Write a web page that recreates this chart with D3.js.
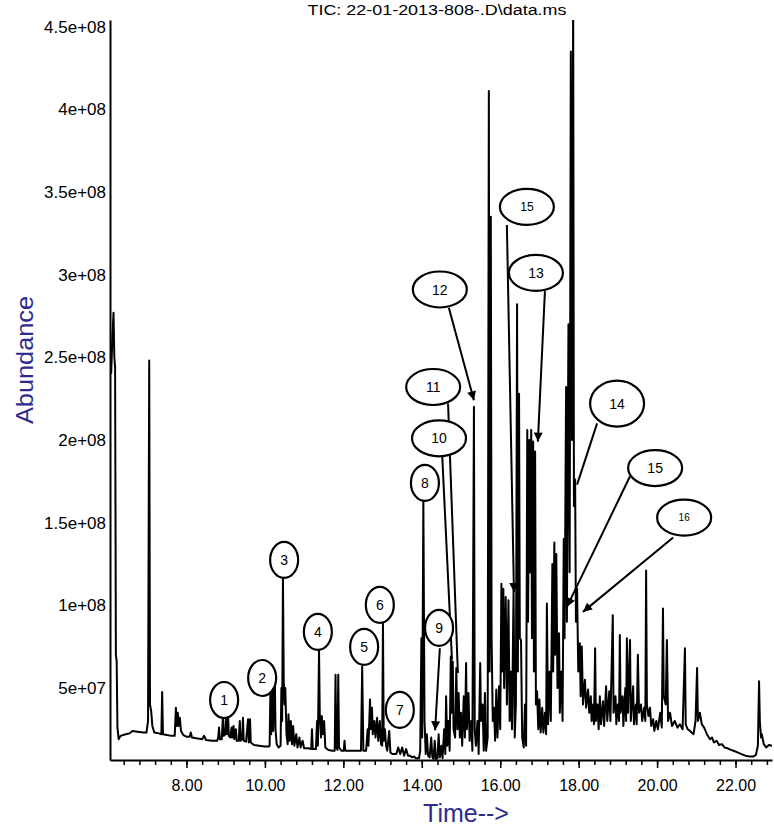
<!DOCTYPE html>
<html>
<head>
<meta charset="utf-8">
<script src="https://cdn.jsdelivr.net/npm/d3@7"></script>
<style>
  body { margin: 0; background: #fff; }
  svg { display: block; font-family: "Liberation Sans", Arial, sans-serif; }
</style>
</head>
<body>
<svg id="tic" width="774" height="828"></svg>
<script>
// TIC trace: [retention time (min), abundance (millions)]
const ticTrace = [
  [6.08,240],[6.11,262],[6.14,277],[6.16,250],[6.18,244],[6.20,70],[6.22,66],[6.24,26],[6.27,19],[6.32,21],
  [6.45,22],[6.55,22.5],[6.62,24],[6.75,23.5],[6.90,23],[6.98,23],[7.02,30],[7.05,248],[7.07,40],[7.10,36],
  [7.13,27],[7.18,23],[7.30,22.5],[7.36,22],[7.38,47.5],[7.40,22],[7.50,21.5],[7.62,21],[7.70,21],[7.73,38],
  [7.75,27],[7.78,35],[7.80,27],[7.83,32],[7.86,24],[7.92,21.5],[8.00,20.5],[8.08,20.5],[8.11,23],[8.14,20],
  [8.25,19.5],[8.40,19],[8.45,21],[8.50,18.5],[8.65,18],[8.78,18],[8.81,20],[8.83,26],[8.85,19],[8.90,19],
  [8.93,33],[8.95,21],[8.99,22],[9.01,33],[9.03,22],[9.06,34],[9.08,21],[9.12,20],[9.15,26],[9.17,20],
  [9.20,27],[9.22,19],[9.26,25],[9.28,18],[9.33,18],[9.36,30],[9.38,18],[9.42,19],[9.44,32],[9.46,18],
  [9.52,17.5],[9.57,31],[9.59,17],[9.62,31],[9.64,17],[9.72,15.5],[9.85,15],[10.00,14.5],[10.10,14.5],
  [10.12,15],[10.14,48],[10.16,22],[10.19,51],[10.21,24],[10.25,59],[10.27,25],[10.30,16],[10.35,14],[10.40,15],
  [10.42,50],[10.44,30],[10.46,118],[10.48,54],[10.50,40],[10.52,50],[10.55,22],[10.58,16],[10.60,34],[10.63,18],
  [10.66,30],[10.69,16],[10.72,27],[10.75,15],[10.80,22],[10.83,14],[10.88,20],[10.91,14],[10.96,18],[11.00,13.5],
  [11.10,13.5],[11.18,13],[11.20,25],[11.22,13],[11.30,13],[11.33,30],[11.35,15],[11.38,73],[11.40,32],[11.43,20],
  [11.45,33],[11.48,22],[11.51,30],[11.54,14],[11.62,12.5],[11.72,12],[11.78,12],[11.80,58],[11.82,14],[11.85,12.5],
  [11.87,58],[11.89,14],[11.95,12],[12.01,12],[12.03,18],[12.05,12],[12.20,12],[12.35,12],[12.45,12],[12.48,63],
  [12.51,12],[12.58,12],[12.62,25],[12.64,15],[12.68,43],[12.70,25],[12.73,38],[12.75,22],[12.79,30],[12.82,20],
  [12.86,32],[12.89,18],[12.93,30],[12.96,16],[12.99,15],[13.01,89],[13.03,18],[13.06,25],[13.09,15],[13.12,12],
  [13.17,24],[13.20,11],[13.25,10],[13.30,10],[13.35,10],[13.40,14],[13.45,10],[13.50,14],[13.55,9],[13.60,13],
  [13.65,9],[13.70,9],[13.75,8],[13.80,8.5],[13.85,7.5],[13.93,7.5],[13.96,12],[13.99,80],[14.01,20],[14.04,164],
  [14.07,30],[14.10,10],[14.13,22],[14.16,9],[14.20,8],[14.24,20],[14.27,8],[14.30,7],[14.33,18],[14.36,7],
  [14.40,7.5],[14.43,22],[14.46,8],[14.50,15],[14.53,7.5],[14.57,25],[14.60,10],[14.62,45],[14.65,15],[14.68,30],
  [14.71,12],[14.74,69],[14.76,35],[14.79,66],[14.81,25],[14.85,20],[14.88,62],[14.91,25],[14.94,47],[14.97,20],
  [15.00,35],[15.03,15],[15.07,45],[15.10,20],[15.13,65],[15.15,25],[15.19,47],[15.22,18],[15.26,30],[15.29,12],
  [15.33,220],[15.35,25],[15.38,15],[15.42,30],[15.45,10],[15.49,65],[15.51,30],[15.55,40],[15.58,12],[15.61,47],
  [15.64,12],[15.68,20],[15.71,411],[15.73,60],[15.76,335],[15.78,80],[15.81,30],[15.84,38],[15.87,18],[15.90,49],
  [15.93,20],[15.97,51],[16.00,25],[16.03,113],[16.05,60],[16.08,110],[16.10,50],[16.14,105],[16.17,40],[16.21,103],
  [16.24,30],[16.27,60],[16.30,25],[16.34,109],[16.37,20],[16.40,40],[16.43,282],[16.45,60],[16.48,228],[16.50,80],
  [16.53,79],[16.56,20],[16.60,14],[16.63,40],[16.66,15],[16.69,206],[16.71,90],[16.74,200],[16.76,120],[16.79,206],
  [16.81,80],[16.84,199],[16.86,60],[16.89,193],[16.91,40],[16.94,48],[16.97,25],[17.00,43],[17.03,23],[17.07,38],
  [17.10,23],[17.14,35],[17.17,22],[17.19,101],[17.22,28],[17.26,60],[17.29,30],[17.33,125],[17.35,60],[17.38,138],
  [17.40,70],[17.43,131],[17.46,50],[17.50,83],[17.52,35],[17.56,60],[17.59,30],[17.62,140],[17.64,80],[17.68,232],
  [17.70,90],[17.74,270],[17.77,120],[17.80,435],[17.83,200],[17.86,470],[17.88,160],[17.91,176],[17.93,90],[17.96,110],
  [17.99,60],[18.03,77],[18.05,45],[18.08,75],[18.11,40],[18.16,55],[18.19,38],[18.24,49],[18.27,35],[18.31,45],
  [18.33,30],[18.37,40],[18.39,28],[18.42,74],[18.44,30],[18.48,40],[18.51,25],[18.54,45],[18.57,28],[18.62,42],
  [18.65,27],[18.70,51],[18.73,30],[18.78,48],[18.81,30],[18.87,94],[18.89,35],[18.94,45],[18.96,28],[19.00,40],
  [19.03,30],[19.05,82],[19.07,35],[19.12,45],[19.14,27],[19.19,50],[19.21,30],[19.23,80],[19.26,35],[19.31,79],
  [19.33,30],[19.39,51],[19.41,28],[19.46,40],[19.48,28],[19.51,70],[19.54,35],[19.59,40],[19.62,30],[19.67,38],
  [19.70,30],[19.72,121],[19.74,40],[19.78,33],[19.82,38],[19.85,27],[19.90,31],[19.93,24],[19.98,30],[20.02,25],
  [20.08,35],[20.12,26],[20.15,98],[20.17,45],[20.22,40],[20.25,79],[20.28,30],[20.33,35],[20.38,27],[20.45,30],
  [20.52,26],[20.58,28],[20.65,25],[20.71,74],[20.73,28],[20.78,25],[20.84,24],[20.88,23],[20.93,22],[20.98,30],
  [21.02,62],[21.04,30],[21.09,35],[21.14,28],[21.20,26],[21.27,22],[21.35,19],[21.40,20],[21.45,17],[21.52,18],
  [21.58,15.5],[21.65,16],[21.72,14],[21.80,13.5],[21.88,12.5],[21.95,12],[22.05,11],[22.15,10],[22.25,9],[22.35,8.5],
  [22.45,8.5],[22.52,9.5],[22.57,15],[22.60,54],[22.62,30],[22.65,20],[22.67,22],[22.72,16],[22.78,14],[22.85,15.5],
  [22.93,15]
];

// axis ticks
const yTickValues = [50, 100, 150, 200, 250, 300, 350, 400, 450];
const yTickLabels = ["5e+07", "1e+08", "1.5e+08", "2e+08", "2.5e+08", "3e+08", "3.5e+08", "4e+08", "4.5e+08"];
const xTickValues = [8, 10, 12, 14, 16, 18, 20, 22];
const xTickLabels = ["8.00", "10.00", "12.00", "14.00", "16.00", "18.00", "20.00", "22.00"];

// peak callouts: label, balloon centre (time, abundance)
const calloutLabels = ["1", "2", "3", "4", "5", "6", "7", "8", "9", "10", "11", "12", "13", "15", "14", "15", "16"];
const calloutTime = [8.96, 9.93, 10.49, 11.35, 12.53, 12.93, 13.44, 14.08, 14.44, 14.44, 14.29, 14.46, 16.91, 16.68, 18.98, 19.95, 20.69];
const calloutAbund = [42.7, 56, 127.4, 83.9, 74.8, 100.2, 36.7, 174, 86.3, 201, 232, 291, 301, 341, 222, 183, 153];

// leader lines: from (time, abundance) to (time, abundance), arrowhead or not
const leaderFrom = [[14.46, 74], [14.52, 191], [14.67, 222], [14.69, 280], [17.14, 290], [16.17, 330], [18.47, 210], [19.31, 178], [20.41, 141]];
const leaderTo = [[14.34, 24.4], [14.77, 67], [14.92, 59], [15.33, 224], [16.96, 199], [16.35, 108], [17.96, 173], [17.70, 99], [18.11, 96]];
const leaderArrow = [true, false, false, true, true, true, false, true, true];

var svg = d3.select("#tic");

var x = d3.scaleLinear().domain([6.05, 22.93]).range([110, 772]);
var y = d3.scaleLinear().domain([6.4, 454]).range([760, 20]);

var axisBlue = "#2e2b8f";

svg.append("defs").append("clipPath")
    .attr("id", "plot-clip")
  .append("rect")
    .attr("x", 110).attr("y", 20)
    .attr("width", 662).attr("height", 740);

svg.select("defs").append("marker")
    .attr("id", "head")
    .attr("viewBox", "0 0 10 10")
    .attr("refX", 10).attr("refY", 5)
    .attr("markerWidth", 10).attr("markerHeight", 9)
    .attr("markerUnits", "userSpaceOnUse")
    .attr("orient", "auto")
  .append("path")
    .attr("d", "M0,0L10,5L0,10Z")
    .attr("fill", "#000");

// title
svg.append("text")
    .attr("x", 437).attr("y", 15)
    .attr("text-anchor", "middle")
    .attr("font-size", 14)
    .attr("textLength", 259)
    .attr("lengthAdjust", "spacingAndGlyphs")
    .text("TIC: 22-01-2013-808-.D\\data.ms");

// trace
var line = d3.line()
    .x(function(d) { return x(d[0]); })
    .y(function(d) { return y(d[1]); });

svg.append("path")
    .datum(ticTrace)
    .attr("clip-path", "url(#plot-clip)")
    .attr("d", line)
    .attr("fill", "none")
    .attr("stroke", "#000")
    .attr("stroke-width", 2)
    .attr("stroke-linejoin", "round");

// x axis: minor ticks every 0.4 min, labelled majors every 2 min
var xMinor = d3.range(6.4, 22.9, 0.4);
svg.append("g")
    .attr("transform", "translate(0,760)")
    .call(d3.axisBottom(x).tickValues(xMinor).tickSize(5).tickSizeOuter(0).tickFormat(""))
    .call(function(g) { g.select(".domain").attr("stroke-width", 2); })
    .call(function(g) { g.selectAll(".tick line").attr("stroke-width", 1.5); });

svg.append("g")
    .attr("transform", "translate(0,760)")
    .call(d3.axisBottom(x).tickValues(xTickValues).tickSize(8).tickSizeOuter(0).tickPadding(12)
        .tickFormat(function(d, i) { return xTickLabels[i]; }))
    .call(function(g) { g.select(".domain").remove(); })
    .call(function(g) { g.selectAll(".tick line").attr("stroke-width", 1.5); })
    .call(function(g) {
        g.selectAll(".tick text")
            .attr("font-size", 16)
            .attr("font-family", "Liberation Sans, Arial, sans-serif");
    });

// y axis: no tick marks, just labels
svg.append("g")
    .attr("transform", "translate(110,0)")
    .call(d3.axisLeft(y).tickValues(yTickValues).tickSize(0).tickSizeOuter(0).tickPadding(4)
        .tickFormat(function(d, i) { return yTickLabels[i]; }))
    .call(function(g) { g.select(".domain").attr("stroke-width", 2); })
    .call(function(g) {
        g.selectAll(".tick text")
            .attr("font-size", 17)
            .attr("font-family", "Liberation Sans, Arial, sans-serif");
    });

// axis titles
svg.append("text")
    .attr("transform", "translate(33,360) rotate(-90)")
    .attr("text-anchor", "middle")
    .attr("font-size", 24)
    .attr("fill", axisBlue)
    .attr("textLength", 128)
    .attr("lengthAdjust", "spacingAndGlyphs")
    .text("Abundance");

svg.append("text")
    .attr("x", 466).attr("y", 822)
    .attr("text-anchor", "middle")
    .attr("font-size", 25)
    .attr("fill", axisBlue)
    .text("Time-->");

// leader lines
var leaders = leaderFrom.map(function(f, i) {
    return { from: f, to: leaderTo[i], arrow: leaderArrow[i] };
});

svg.append("g").selectAll("line")
    .data(leaders)
  .enter().append("line")
    .attr("x1", function(d) { return x(d.from[0]); })
    .attr("y1", function(d) { return y(d.from[1]); })
    .attr("x2", function(d) { return x(d.to[0]); })
    .attr("y2", function(d) { return y(d.to[1]); })
    .attr("stroke", "#000")
    .attr("stroke-width", 2)
    .attr("marker-end", function(d) { return d.arrow ? "url(#head)" : null; });

// callout balloons
var callouts = calloutLabels.map(function(lab, i) {
    return { label: lab, t: calloutTime[i], v: calloutAbund[i] };
});

var cg = svg.append("g").selectAll("g")
    .data(callouts)
  .enter().append("g")
    .attr("transform", function(d) { return "translate(" + x(d.t) + "," + y(d.v) + ")"; });

cg.append("ellipse")
    .attr("rx", function(d) { return d.label.length > 1 ? 27 : 14; })
    .attr("ry", function(d) { return d.label === "14" ? 23 : 18; })
    .attr("fill", "#fff")
    .attr("stroke", "#000")
    .attr("stroke-width", 2.2);

cg.append("text")
    .attr("text-anchor", "middle")
    .attr("dy", "0.36em")
    .attr("font-size", function(d, i) { return d.label === "16" ? 10 : (i === 13 ? 12 : 14); })
    .text(function(d) { return d.label; });
</script>
</body>
</html>
